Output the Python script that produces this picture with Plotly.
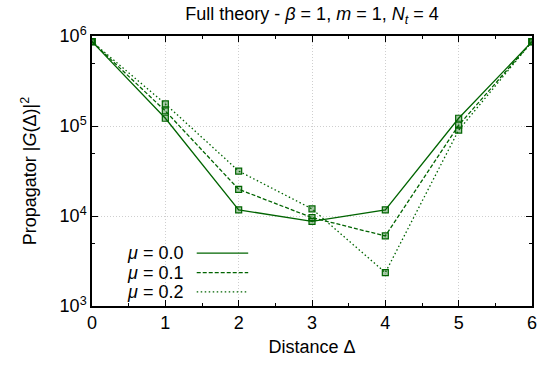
import plotly.graph_objects as go

# Propagator |G(Δ)|^2 against distance for three chemical potentials
distance = [0, 1, 2, 3, 4, 5, 6]
mu_labels = ["0.0", "0.1", "0.2"]
prop_mu00 = [8.65e5, 1.22e5, 1.17e4, 8.7e3, 1.17e4, 1.22e5, 8.65e5]
prop_mu01 = [8.65e5, 1.47e5, 1.98e4, 9.6e3, 6.0e3, 1.02e5, 8.65e5]
prop_mu02 = [8.65e5, 1.76e5, 3.16e4, 1.2e4, 2.35e3, 9.0e4, 8.65e5]
series = [prop_mu00, prop_mu01, prop_mu02]

y_ticks = [1e3, 1e4, 1e5, 1e6]
y_ticktext = ["10<sup>3</sup>", "10<sup>4</sup>", "10<sup>5</sup>", "10<sup>6</sup>"]
y_minor = [5e3, 5e4, 5e5]

GREEN = "#006400"
dashes = ["solid", "4px,2px", "1.5px,2.5px"]
FONT = "Liberation Sans, Arial, sans-serif"
FS = 18

fig = go.Figure()
for vals, dash in zip(series, dashes):
    fig.add_trace(go.Scatter(
        x=distance, y=vals, mode="lines+markers",
        line=dict(color=GREEN, width=1.3, dash=dash),
        marker=dict(symbol="square", size=6, color="rgba(0,100,0,0.35)",
                    line=dict(color=GREEN, width=1.2)),
        showlegend=False,
    ))

# key: labels on the left, line samples on the right
key_y = [0.196, 0.1235, 0.052]
for lab, dash, ky in zip(mu_labels, dashes, key_y):
    fig.add_annotation(
        x=0.212, y=ky, xref="paper", yref="paper", xanchor="right",
        yanchor="middle", showarrow=False,
        text=f"<i>μ</i> = {lab}", font=dict(size=FS, color="black", family=FONT),
    )
    fig.add_shape(
        type="line", xref="paper", yref="paper",
        x0=0.238, x1=0.355, y0=ky, y1=ky,
        line=dict(color=GREEN, width=1.3, dash=dash),
    )

axis_common = dict(
    showline=True, linecolor="black", linewidth=1.5, mirror="ticks",
    ticks="inside", ticklen=6, tickcolor="black", tickwidth=1,
    showgrid=True, gridcolor="#cfcfcf", griddash="1px,2px", gridwidth=1,
    zeroline=False, tickfont=dict(size=FS, color="black", family=FONT),
)

fig.update_xaxes(
    range=[0, 6], tickvals=distance,
    minor=dict(dtick=0.5, tick0=0, ticks="inside", ticklen=3,
               tickcolor="black", showgrid=False),
    title=dict(text="Distance Δ", font=dict(size=FS, color="black", family=FONT),
               standoff=8),
    **axis_common,
)
fig.update_yaxes(
    type="log", range=[3, 6], tickvals=y_ticks, ticktext=y_ticktext,
    minor=dict(tickvals=y_minor, ticks="inside", ticklen=3,
               tickcolor="black", showgrid=False),
    title=dict(text="Propagator |<i>G</i>(Δ)|<sup>2</sup>",
               font=dict(size=FS, color="black", family=FONT), standoff=18),
    **axis_common,
)

fig.update_layout(
    width=549, height=365,
    margin=dict(l=92, r=17, t=36, b=59),
    paper_bgcolor="white", plot_bgcolor="white",
    title=dict(
        text="Full theory - <i>β</i> = 1, <i>m</i> = 1, <i>N<sub>t</sub></i> = 4",
        x=(92 + 532) / 2 / 549, xanchor="center", y=1 - 14 / 365, yanchor="middle",
        font=dict(size=FS, color="black", family=FONT),
    ),
)

fig.write_html("out.html")
